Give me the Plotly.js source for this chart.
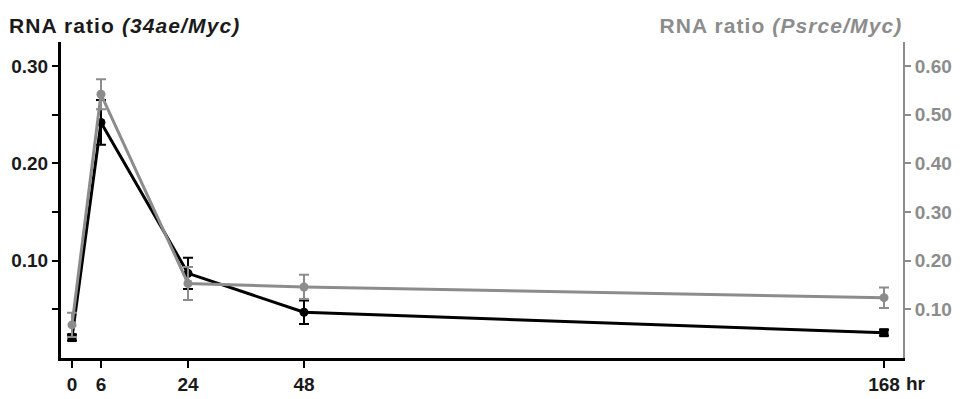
<!DOCTYPE html>
<html><head><meta charset="utf-8">
<script src="https://cdn.plot.ly/plotly-3.0.1.min.js"></script>
<style>
body{margin:0;background:#fff}
#chart .annotation-text.title-text{letter-spacing:1.1px}
</style>
</head><body>
<div id="chart" style="width:964px;height:399px"></div>
<script>
// data
const hours = [0, 6, 24, 48, 168];
const ratio34ae = [0.021, 0.242, 0.087, 0.047, 0.026];
const ratio34aeErr = [0.003, 0.023, 0.016, 0.012, 0.003];
const ratioPsrce = [0.068, 0.542, 0.153, 0.146, 0.124];
const ratioPsrceErr = [0.025, 0.031, 0.034, 0.025, 0.021];
const black34aeSymbols = ['square', 'circle', 'circle', 'circle', 'square'];
const xTickLabels = ['0', '6', '24', '48', '168'];
const leftTickVals = [0.05, 0.10, 0.15, 0.20, 0.25, 0.30];
const leftTickText = ['', '0.10', '', '0.20', '', '0.30'];
const rightTickVals = [0.10, 0.20, 0.30, 0.40, 0.50, 0.60];
const rightTickText = ['0.10', '0.20', '0.30', '0.40', '0.50', '0.60'];

const GRAY = '#8c8c8c';
const INK = '#1a1a1a';
const FONT = 'Liberation Sans, Arial, sans-serif';

const traces = [
  {
    x: hours, y: ratioPsrce, yaxis: 'y2', type: 'scatter', mode: 'lines+markers',
    line: {color: GRAY, width: 3},
    marker: {color: GRAY, size: 9, symbol: 'circle'},
    error_y: {type: 'data', array: ratioPsrceErr, visible: true, color: GRAY, thickness: 2, width: 5},
    showlegend: false, cliponaxis: false
  },
  {
    x: hours, y: ratio34ae, type: 'scatter', mode: 'lines+markers',
    line: {color: '#000', width: 3},
    marker: {color: '#000', size: 9, symbol: black34aeSymbols},
    error_y: {type: 'data', array: ratio34aeErr, visible: true, color: '#000', thickness: 2, width: 5},
    showlegend: false, cliponaxis: false
  }
];

const layout = {
  width: 964, height: 399,
  margin: {l: 61, r: 61, t: 42, b: 41},
  paper_bgcolor: '#fff', plot_bgcolor: '#fff',
  font: {family: FONT, size: 17, color: INK},
  xaxis: {
    range: [-2.276, 171.93],
    tickvals: hours, ticktext: xTickLabels,
    showgrid: false, zeroline: false,
    showline: true, linecolor: '#000', linewidth: 3,
    ticks: 'outside', ticklen: 7, tickwidth: 2, tickcolor: '#000',
    tickfont: {family: FONT, size: 19, color: INK, weight: 'bold'}
  },
  yaxis: {
    range: [0, 0.3247],
    tickvals: leftTickVals, ticktext: leftTickText,
    showgrid: false, zeroline: false,
    showline: true, linecolor: '#000', linewidth: 3,
    ticks: 'outside', ticklen: 6, tickwidth: 2, tickcolor: '#000',
    tickfont: {family: FONT, size: 19, color: INK, weight: 'bold'}
  },
  yaxis2: {
    range: [0, 0.6494], overlaying: 'y', side: 'right',
    tickvals: rightTickVals, ticktext: rightTickText,
    showgrid: false, zeroline: false,
    showline: true, linecolor: GRAY, linewidth: 2,
    ticks: 'outside', ticklen: 6, tickwidth: 2, tickcolor: GRAY,
    tickfont: {family: FONT, size: 19, color: GRAY, weight: 'bold'}
  },
  annotations: [
    {text: 'RNA ratio <i>(34ae/Myc)</i>', xref: 'paper', yref: 'paper', x: -0.0511, y: 1.052,
     xanchor: 'left', yanchor: 'middle', showarrow: false,
     font: {family: FONT, size: 21, color: INK, weight: 'bold'}},
    {text: 'RNA ratio <i>(Psrce/Myc)</i>', xref: 'paper', yref: 'paper', x: 0.722, y: 1.052,
     xanchor: 'left', yanchor: 'middle', showarrow: false,
     font: {family: FONT, size: 21, color: GRAY, weight: 'bold'}},
    {text: 'hr', xref: 'x', yref: 'paper', x: 168, y: 0, xshift: 20, yshift: -25,
     xanchor: 'left', yanchor: 'middle', showarrow: false,
     font: {family: FONT, size: 19, color: INK, weight: 'bold'}}
  ]
};

Plotly.newPlot('chart', traces, layout, {displayModeBar: false, staticPlot: true}).then(function (gd) {
  // widen the two header titles slightly, as in the reference typography
  const texts = gd.querySelectorAll('.annotation-text');
  for (let i = 0; i < 2 && i < texts.length; i++) texts[i].classList.add('title-text');
});
</script>
</body></html>
